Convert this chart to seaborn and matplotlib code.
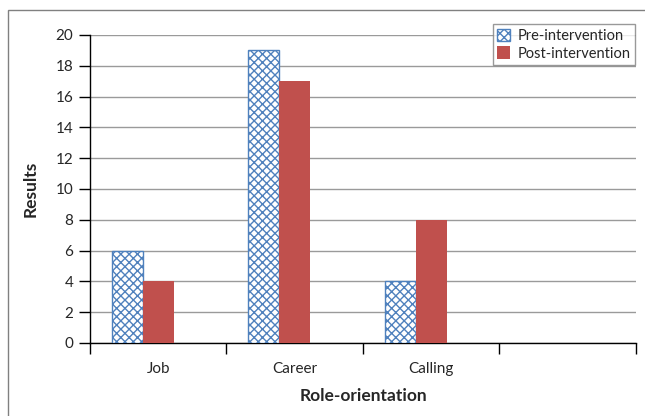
import pandas as pd
import numpy as np
import matplotlib
matplotlib.use('Agg')
import matplotlib.pyplot as plt
import seaborn as sns
from matplotlib.patches import Rectangle, Patch

categories = ['Job', 'Career', 'Calling']
pre_values = [6, 19, 4]
post_values = [4, 17, 8]
series = ['Pre-intervention', 'Post-intervention']

sns.set_theme(style='white')
plt.rcParams['font.family'] = ['Lato', 'DejaVu Sans']
plt.rcParams['hatch.linewidth'] = 1.0

rows = []
for c, a, b in zip(categories, pre_values, post_values):
    rows.append({'role': c, 'series': series[0], 'value': a})
    rows.append({'role': c, 'series': series[1], 'value': b})
    # empty third series keeps the Excel-style group offset
    rows.append({'role': c, 'series': 'blank', 'value': np.nan})
df = pd.DataFrame(rows)

blue = '#4F81BD'
red = '#C0504D'

fig = plt.figure(figsize=(6.45, 4.16), dpi=100)
ax = fig.add_axes([0.1395, 0.1755, 0.8465, 0.7405])

sns.barplot(data=df, x='role', y='value', hue='series',
            order=categories + [''], hue_order=series + ['blank'],
            palette={series[0]: 'white', series[1]: red, 'blank': 'white'},
            saturation=1, width=0.68, gap=0, legend=False, ax=ax, zorder=3)

for p in ax.patches:
    if p.get_facecolor()[:3] == (1.0, 1.0, 1.0):
        p.set_hatch('xxxx')
        p.set_edgecolor(blue)
        p.set_linewidth(1.0)
    else:
        p.set_edgecolor('none')

ax.set_xlim(-0.5, 3.5)
ax.set_ylim(0, 20)
ax.set_yticks(np.arange(0, 21, 2))
ax.yaxis.grid(True, color='#9a9a9a', linewidth=1.0, zorder=0)
ax.set_axisbelow(True)

ax.set_xticks(np.arange(-0.5, 3.6, 1.0))
ax.set_xticklabels([])
ax.set_xticks(np.arange(0, 4, 1.0), minor=True)
ax.set_xticklabels(categories + [''], minor=True)
ax.tick_params(axis='x', which='major', direction='out', length=8, width=1, color='black', bottom=True)
ax.tick_params(axis='x', which='minor', length=0, labelsize=11, pad=14)
ax.tick_params(axis='y', direction='out', length=8, width=1, color='black', left=True, labelsize=11, pad=4)

for s in ['top', 'right']:
    ax.spines[s].set_visible(False)
for s in ['left', 'bottom']:
    ax.spines[s].set_color('black')
    ax.spines[s].set_linewidth(1.0)

ax.set_xlabel('Role-orientation', fontsize=12.5, fontweight='bold', labelpad=8)
ax.set_ylabel('Results', fontsize=12.5, fontweight='bold', labelpad=12)

handles = [Patch(facecolor='white', edgecolor=blue, hatch='xxxx', label=series[0]),
           Patch(facecolor=red, edgecolor='none', label=series[1])]
leg = fig.legend(handles=handles, loc='upper right', bbox_to_anchor=(0.996, 0.959),
                 fontsize=10.5, frameon=True, fancybox=False, handlelength=0.9,
                 handleheight=0.9, handletextpad=0.5, borderpad=0.3, labelspacing=0.25)
leg.get_frame().set_edgecolor('#808080')
leg.get_frame().set_linewidth(1.0)

fig.patches.append(Rectangle((8 / 645, -0.1), 1.1, (416 - 10) / 416 + 0.1,
                             transform=fig.transFigure, fill=False,
                             edgecolor='#808080', linewidth=1.0))

fig.savefig('out.png', dpi=100)
